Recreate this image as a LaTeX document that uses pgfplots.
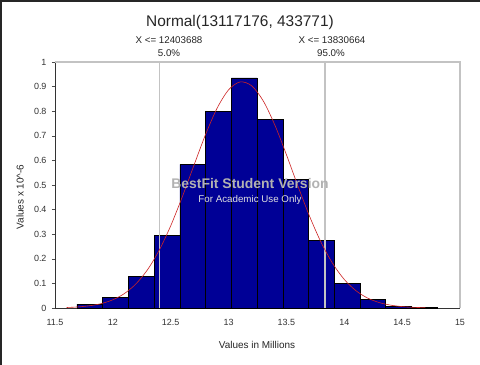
\documentclass[border=0pt]{standalone}
\usepackage{pgfplots}
\pgfplotsset{compat=1.18}
\usepackage{fontspec}
\setmainfont{Liberation Sans}
\definecolor{barblue}{RGB}{0,0,150}
\definecolor{fitred}{RGB}{205,35,35}
\definecolor{lgray}{RGB}{195,195,195}
\begin{document}
\begin{tikzpicture}
\useasboundingbox (0,0) rectangle (480bp,365bp);
\fill[white] (0,0) rectangle (480bp,365bp);
\fill[black!85] (0,363bp) rectangle (480bp,365bp);
\fill[black!85] (0,0) rectangle (2bp,365bp);
\begin{axis}[
  at={(55bp,57bp)}, anchor=south west,
  scale only axis, width=405bp, height=246bp,
  xmin=11.5, xmax=15, ymin=0, ymax=1,
  axis x line*=bottom, axis y line*=left,
  axis line style={black!80, line width=0.8bp},
  xtick={11.5,12,...,15}, ytick={0,0.1,...,1},
  xtick style={draw=none},
  ytick style={black!70, line width=0.5bp},
  tick align=outside, major tick length=3bp,
  /pgf/number format/assume math mode=true,
  tick label style={font=\fontsize{9}{10}\selectfont, black!80},
  xticklabel style={yshift=-5bp},
  yticklabel style={xshift=-2bp},
  clip=false,
]
\addplot[ybar interval, fill=barblue, draw=black, line width=0.9bp] coordinates {
(11.69,0.016) (11.9125,0.043) (12.135,0.13) (12.3575,0.294) (12.58,0.584)
(12.8025,0.80) (13.025,0.935) (13.2475,0.768) (13.47,0.524) (13.6925,0.274)
(13.915,0.098) (14.1375,0.033) (14.36,0.006) (14.5825,0.003) (14.805,0.003)
};
\addplot[lgray, line width=1.8bp] coordinates {(12.403688,0) (12.403688,1)};
\addplot[lgray, line width=1.8bp] coordinates {(13.830664,0) (13.830664,1)};
\addplot[lgray, line width=1.6bp] coordinates {(15,0) (15,1) (11.5,1)};
\addplot[fitred, line width=0.6bp, smooth] coordinates {
(11.6,0.0020) (11.7,0.0044) (11.8,0.0092) (11.9,0.0179) (12.0,0.0334)
(12.1,0.0588) (12.2,0.0983) (12.3,0.1559) (12.4,0.2344) (12.5,0.3342)
(12.6,0.4518) (12.7,0.5791) (12.8,0.7039) (12.9,0.8114) (13.0,0.8868)
(13.1,0.9190) (13.2,0.9031) (13.3,0.8415) (13.4,0.7436) (13.5,0.6231)
(13.6,0.4951) (13.7,0.3729) (13.8,0.2664) (13.9,0.1805) (14.0,0.1160)
(14.1,0.0706) (14.2,0.0408) (14.3,0.0223) (14.4,0.0116) (14.5,0.0057)
(14.6,0.0027) (14.7,0.0012)
};
\end{axis}
\node[font=\fontsize{15.5}{18}\selectfont, black!85] at (240bp,342bp) {Normal(13117176, 433771)};
\node[font=\fontsize{9.8}{11}\selectfont, black!85] at (169bp,325bp) {X <= 12403688};
\node[font=\fontsize{9.8}{11}\selectfont, black!85] at (169bp,312bp) {5.0\%};
\node[font=\fontsize{9.8}{11}\selectfont, black!85] at (332bp,325bp) {X <= 13830664};
\node[font=\fontsize{9.8}{11}\selectfont, black!85] at (331bp,312bp) {95.0\%};
\node[font=\fontsize{10}{11}\selectfont, black!85] at (257bp,20bp) {Values in Millions};
\node[font=\fontsize{10}{11}\selectfont, black!85, rotate=90] at (20bp,168bp) {Values x 10\^{}-6};
\node[font=\bfseries\fontsize{14}{16}\selectfont, black!30] at (250bp,181bp) {BestFit Student Version};
\node[font=\fontsize{9.8}{11}\selectfont, black!12] at (250bp,165bp) {For Academic Use Only};
\end{tikzpicture}
\end{document}
